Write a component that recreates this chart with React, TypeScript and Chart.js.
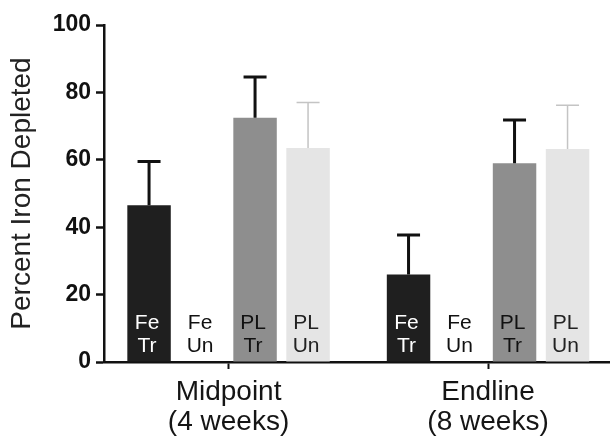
import React, { useEffect, useRef } from "react";
import { Chart, registerables } from "chart.js";

Chart.register(...registerables);

const categories = [["Midpoint", "(4 weeks)"], ["Endline", "(8 weeks)"]];
const seriesNames = ["Fe Tr", "Fe Un", "PL Tr", "PL Un"];
const feTr = [46.5, 26];
const feUn = [0, 0];
const plTr = [72.5, 59];
const plUn = [63.5, 63.2];
const feTrErr = [13, 11.7];
const feUnErr = [0, 0];
const plTrErr = [12.1, 12.8];
const plUnErr = [13.5, 13];
const yTicks = [0, 20, 40, 60, 80, 100];

const seriesValues = [feTr, feUn, plTr, plUn];
const seriesErrors = [feTrErr, feUnErr, plTrErr, plUnErr];
const barColors = ["#1f1f1f", "rgba(0,0,0,0)", "#8e8e8e", "#e5e5e5"];
const errColors = ["#111111", "#111111", "#111111", "#c4c4c4"];
const errWidths = [3, 3, 3, 1.5];
const labelColors = ["#ffffff", "#111111", "#111111", "#222222"];

const FONT = "'Liberation Sans', Arial, Helvetica, sans-serif";

const errorBarPlugin = {
  id: "errorBars",
  afterDatasetsDraw(chart: any) {
    const ctx = chart.ctx;
    const y = chart.scales.y;
    chart.data.datasets.forEach((ds: any, i: number) => {
      const meta = chart.getDatasetMeta(i);
      meta.data.forEach((bar: any, j: number) => {
        const err = seriesErrors[i][j];
        if (!err) return;
        const v = seriesValues[i][j];
        const top = y.getPixelForValue(v + err);
        const base = y.getPixelForValue(v);
        ctx.save();
        ctx.strokeStyle = errColors[i];
        ctx.lineWidth = errWidths[i];
        ctx.beginPath();
        ctx.moveTo(bar.x, base);
        ctx.lineTo(bar.x, top);
        ctx.moveTo(bar.x - 11.5, top);
        ctx.lineTo(bar.x + 11.5, top);
        ctx.stroke();
        ctx.restore();
      });
    });
  },
};

const barLabelPlugin = {
  id: "barLabels",
  afterDatasetsDraw(chart: any) {
    const ctx = chart.ctx;
    const y = chart.scales.y;
    const zero = y.getPixelForValue(0);
    chart.data.datasets.forEach((ds: any, i: number) => {
      const meta = chart.getDatasetMeta(i);
      const lines = seriesNames[i].split(" ");
      meta.data.forEach((bar: any) => {
        ctx.save();
        ctx.fillStyle = labelColors[i];
        ctx.font = `21px ${FONT}`;
        ctx.textAlign = "center";
        ctx.textBaseline = "middle";
        ctx.fillText(lines[0], bar.x - 2, zero - 39);
        ctx.fillText(lines[1], bar.x - 2, zero - 16);
        ctx.restore();
      });
    });
  },
};

export default function App() {
  const ref = useRef<HTMLCanvasElement | null>(null);
  useEffect(() => {
    if (!ref.current) return;
    const chart = new Chart(ref.current, {
      type: "bar",
      data: {
        datasets: seriesNames.map((name, i) => ({
          label: name,
          data: categories.map((_, j) => ({ x: j, y: seriesValues[i][j] })),
          backgroundColor: barColors[i],
          borderWidth: 0,
          categoryPercentage: 0.817,
          barPercentage: 0.82,
        })),
      },
      options: {
        animation: false,
        responsive: true,
        maintainAspectRatio: false,
        layout: { padding: { top: 25, left: 0, right: 0, bottom: 0 } },
        plugins: { legend: { display: false }, tooltip: { enabled: false } },
        scales: {
          x: {
            type: "linear",
            offset: false,
            min: -0.48,
            max: 1.47,
            afterBuildTicks: (scale: any) => {
              scale.ticks = categories.map((_, i) => ({ value: i }));
            },
            afterFit: (scale: any) => {
              scale.height = 77;
            },
            ticks: {
              autoSkip: false,
              maxRotation: 0,
              color: "#151515",
              padding: 9,
              font: { family: FONT, size: 28, lineHeight: 1.05 },
              callback: (value: any) => categories[Math.round(value)] as any,
            },
            grid: {
              offset: false,
              drawOnChartArea: false,
              drawTicks: true,
              tickLength: 7,
              tickColor: "#111",
              tickWidth: 2,
            },
            border: { display: true, color: "#111", width: 2.5 },
          },
          y: {
            min: 0,
            max: 100,
            afterBuildTicks: (scale: any) => {
              scale.ticks = yTicks.map((v) => ({ value: v }));
            },
            afterFit: (scale: any) => {
              scale.width = 104;
            },
            ticks: {
              color: "#111",
              padding: 5,
              font: { family: FONT, size: 23, weight: "bold" },
            },
            grid: {
              drawOnChartArea: false,
              drawTicks: true,
              tickLength: 8,
              tickColor: "#111",
              tickWidth: 2.5,
            },
            border: { display: true, color: "#111", width: 2.5 },
            title: {
              display: true,
              text: "Percent Iron Depleted",
              color: "#222",
              font: { family: FONT, size: 28 },
              padding: { top: 5, bottom: 0 },
            },
          },
        },
      },
      plugins: [errorBarPlugin, barLabelPlugin],
    } as any);
    return () => chart.destroy();
  }, []);
  return (
    <div style={{ position: "fixed", left: 0, top: 0, width: 610, height: 439, background: "#fff" }}>
      <canvas ref={ref} />
    </div>
  );
}
